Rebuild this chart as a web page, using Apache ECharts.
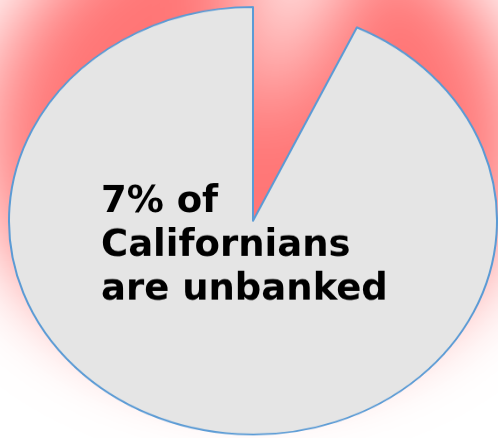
<!DOCTYPE html>
<html>
<head>
<meta charset="utf-8">
<script src="https://cdn.jsdelivr.net/npm/echarts@6/dist/echarts.min.js"></script>
<style>
  html, body { margin: 0; padding: 0; background: #ffffff; overflow: hidden; }
  #wrap { width: 498px; height: 438px; overflow: hidden; }
  /* the pie is drawn as a circle, then squashed into an ellipse */
  #chart { width: 498px; height: 500px; transform: scaleY(0.876); transform-origin: 0 0; }
</style>
</head>
<body>
<div id="wrap"><div id="chart"></div></div>
<script>
// Share of Californians with and without a bank account (%)
const categories = ['Unbanked', 'Banked'];
const shares = [7, 93];
const headline = ['7% of', 'Californians', 'are unbanked'];

const SQUASH = 0.876;
const GLOW_SHIFT = 3000; // glow pie is drawn off-canvas; only its blurred shadow lands on screen

const chart = echarts.init(document.getElementById('chart'), null, { renderer: 'canvas' });

const hidden = { color: 'rgba(0,0,0,0)', borderWidth: 0 };

const pieData = categories.map((name, i) => ({
  name: name,
  value: shares[i],
  itemStyle: i === 0 ? hidden : { color: '#e5e5e5', borderColor: '#5b9bd5', borderWidth: 2 }
}));

const glowData = categories.map((name, i) => ({
  name: name,
  value: shares[i],
  itemStyle: i === 0 ? hidden : {
    color: '#ff7676',
    borderWidth: 0,
    shadowColor: '#ff7676',
    shadowBlur: 84,
    shadowOffsetX: -GLOW_SHIFT
  }
}));

const common = {
  type: 'pie',
  startAngle: 90,
  clockwise: true,
  label: { show: false },
  labelLine: { show: false },
  emphasis: { disabled: true },
  silent: true
};

chart.setOption({
  backgroundColor: '#ffffff',
  animation: false,
  series: [
    Object.assign({}, common, {
      name: 'glow',
      z: 1,
      center: [253 + GLOW_SHIFT, 158],
      radius: 272,
      data: glowData
    }),
    Object.assign({}, common, {
      name: 'share',
      z: 2,
      center: [253, 252],
      radius: 244,
      data: pieData
    })
  ],
  graphic: [{
    type: 'text',
    x: 101,
    y: 180 / SQUASH,
    scaleY: 1 / SQUASH,
    z: 100,
    style: {
      text: headline.join('\n'),
      font: 'bold 37px "DejaVu Sans"',
      lineHeight: 44,
      fill: '#000000',
      align: 'left',
      verticalAlign: 'top'
    }
  }]
});
</script>
</body>
</html>
